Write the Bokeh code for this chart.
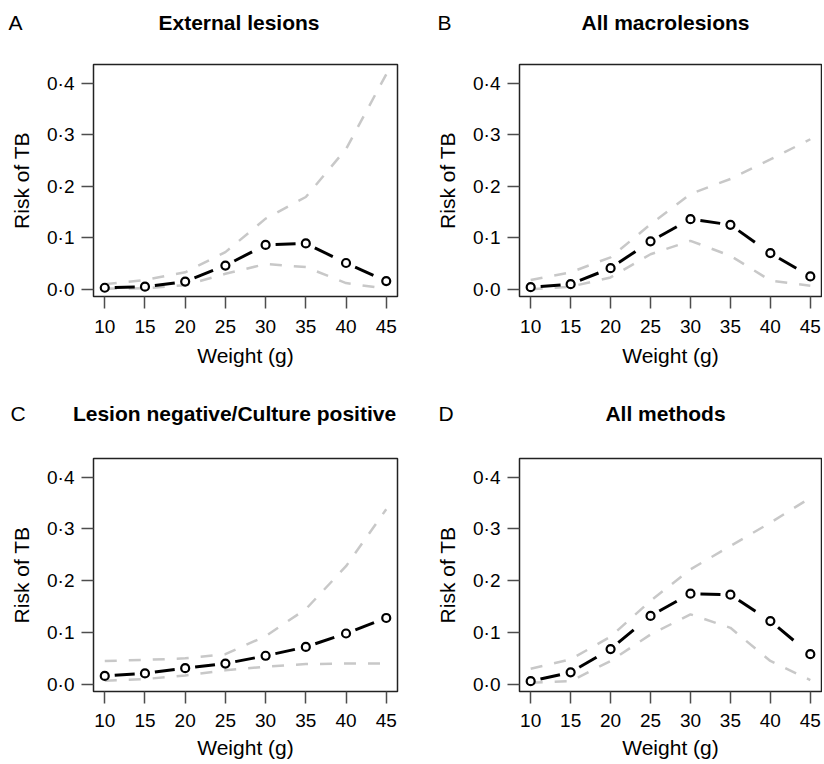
from bokeh.plotting import figure
from bokeh.models import Label, FixedTicker, Range1d
from bokeh.layouts import gridplot
from bokeh.embed import file_html
from bokeh.resources import INLINE

# ---------------- data ----------------
weights = [10, 15, 20, 25, 30, 35, 40, 45]
x_ticks = [10, 15, 20, 25, 30, 35, 40, 45]
y_ticks = [0.0, 0.1, 0.2, 0.3, 0.4]
y_tick_labels = ["0·0", "0·1", "0·2", "0·3", "0·4"]

panel_letters = ["A", "B", "C", "D"]
panel_titles = ["External lesions", "All macrolesions",
                "Lesion negative/Culture positive", "All methods"]

mean_A = [0.003, 0.005, 0.015, 0.046, 0.086, 0.089, 0.051, 0.016]
upper_A = [0.010, 0.018, 0.033, 0.072, 0.137, 0.179, 0.272, 0.417]
lower_A = [0.001, 0.002, 0.008, 0.030, 0.049, 0.043, 0.012, 0.001]

mean_B = [0.004, 0.010, 0.041, 0.093, 0.136, 0.125, 0.070, 0.025]
upper_B = [0.018, 0.033, 0.062, 0.126, 0.185, 0.214, 0.252, 0.291]
lower_B = [0.000, 0.005, 0.023, 0.068, 0.094, 0.065, 0.017, 0.007]

mean_C = [0.016, 0.021, 0.031, 0.040, 0.055, 0.072, 0.098, 0.128]
upper_C = [0.045, 0.047, 0.050, 0.058, 0.093, 0.145, 0.228, 0.338]
lower_C = [0.007, 0.010, 0.017, 0.027, 0.034, 0.039, 0.040, 0.040]

mean_D = [0.006, 0.023, 0.068, 0.132, 0.175, 0.173, 0.122, 0.058]
upper_D = [0.030, 0.048, 0.092, 0.161, 0.222, 0.267, 0.312, 0.360]
lower_D = [0.003, 0.006, 0.045, 0.096, 0.135, 0.109, 0.045, 0.008]

FONT = "Liberation Sans"


def make_panel(letter, title, mean, lower, upper, width, height,
               bl, br, bt, bb, title_x, letter_x, text_y,
               tick_standoff, label_standoff):
    p = figure(width=width, height=height, output_backend="svg",
               toolbar_location=None,
               x_range=Range1d(8.6, 46.4), y_range=Range1d(-0.014, 0.436),
               min_border_left=bl, min_border_right=br,
               min_border_top=bt, min_border_bottom=bb)
    p.background_fill_color = "white"
    p.border_fill_color = "white"
    p.outline_line_color = "#222222"
    p.outline_line_width = 1.5
    p.grid.visible = False

    for ax in (p.xaxis[0], p.yaxis[0]):
        ax.axis_line_color = None
        ax.major_tick_line_color = "#4d4d4d"
        ax.major_tick_line_width = 1.5
        ax.major_tick_out = 12
        ax.major_tick_in = 0
        ax.minor_tick_line_color = None
        ax.major_label_text_font = FONT
        ax.major_label_text_font_size = "19px"
        ax.major_label_text_color = "black"
        ax.axis_label_text_font = FONT
        ax.axis_label_text_font_size = "21px"
        ax.axis_label_text_font_style = "normal"
        ax.axis_label_text_color = "black"

    p.xaxis.ticker = FixedTicker(ticks=x_ticks)
    p.yaxis.ticker = FixedTicker(ticks=y_ticks)
    p.yaxis.major_label_overrides = dict(zip(y_ticks, y_tick_labels))
    p.xaxis.axis_label = "Weight (g)"
    p.yaxis.axis_label = "Risk of TB"
    p.xaxis.major_label_standoff = tick_standoff
    p.yaxis.major_label_standoff = 7
    p.xaxis.axis_label_standoff = label_standoff
    p.yaxis.axis_label_standoff = 11

    # confidence bounds (light grey dashed)
    p.line(weights, upper, line_color="#c8c8c8", line_width=2.5, line_dash="12 12")
    p.line(weights, lower, line_color="#c8c8c8", line_width=2.5, line_dash="12 12")
    # mean risk: dashed segments between points, then open circles
    p.segment(x0=weights[:-1], y0=mean[:-1], x1=weights[1:], y1=mean[1:],
              line_color="black", line_width=3, line_dash="20 20",
              line_dash_offset=30)
    p.scatter(weights, mean, marker="circle", size=8, line_color="black",
              line_width=2.2, fill_color="white")

    # panel title and panel letter (absolute canvas positions, outside the frame)
    p.add_layout(Label(x=title_x, y=text_y, x_units="canvas", y_units="canvas",
                       text=title, text_align="center", text_baseline="alphabetic",
                       text_font=FONT, text_font_size="21px",
                       text_font_style="bold", text_color="black"), "above")
    p.add_layout(Label(x=letter_x, y=text_y, x_units="canvas", y_units="canvas",
                       text=letter, text_align="left", text_baseline="alphabetic",
                       text_font=FONT, text_font_size="21px",
                       text_font_style="normal", text_color="black"), "above")
    return p


pA = make_panel(panel_letters[0], panel_titles[0], mean_A, lower_A, upper_A,
                412, 382, 93, 15, 64, 86, 238.5, 8, 22, 11, 8)
pB = make_panel(panel_letters[1], panel_titles[1], mean_B, lower_B, upper_B,
                410, 382, 107, 1, 64, 86, 253, 25, 22, 11, 8)
pC = make_panel(panel_letters[2], panel_titles[2], mean_C, lower_C, upper_C,
                412, 382, 93, 15, 76, 73, 234, 10, 31, 10, 6)
pD = make_panel(panel_letters[3], panel_titles[3], mean_D, lower_D, upper_D,
                410, 382, 107, 1, 76, 73, 253, 26, 31, 10, 6)

grid = gridplot([[pA, pB], [pC, pD]], toolbar_location=None)

open("out.html", "w").write(file_html(grid, INLINE))
